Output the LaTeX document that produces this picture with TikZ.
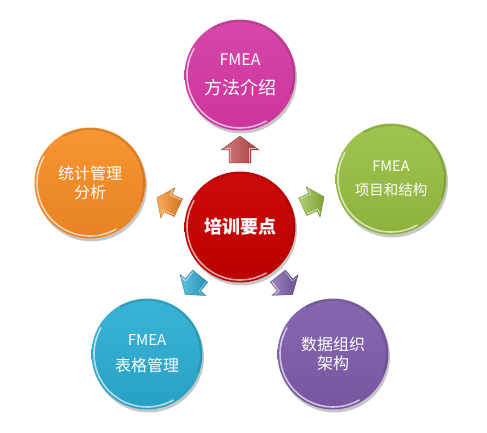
\documentclass[tikz,border=0pt]{standalone}
\usepackage{fontspec}
\setmainfont{Noto Sans CJK SC}
\usetikzlibrary{shadows}
\definecolor{magC}{RGB}{204,52,155}
\definecolor{magL}{RGB}{214,72,170}
\definecolor{grnC}{RGB}{140,178,60}
\definecolor{grnL}{RGB}{160,196,80}
\definecolor{orgC}{RGB}{232,130,35}
\definecolor{orgL}{RGB}{246,150,50}
\definecolor{redC}{RGB}{185,0,0}
\definecolor{redL}{RGB}{206,10,10}
\definecolor{cyaC}{RGB}{40,160,196}
\definecolor{cyaL}{RGB}{58,180,214}
\definecolor{purC}{RGB}{118,86,160}
\definecolor{purL}{RGB}{134,104,176}
\definecolor{arrR}{RGB}{192,72,72}
\tikzset{
  ball/.style n args={2}{circle, minimum size=111pt, inner sep=0pt, text=white, align=center,
    top color=#2, bottom color=#1,
    drop shadow={shadow xshift=1.5pt, shadow yshift=-3pt, opacity=0.22, fill=black},
    path picture={
      \draw[white, opacity=0.65, line width=1.6pt]
        ([shift={(150:53pt)}]path picture bounding box.center) arc[start angle=150, end angle=300, radius=53pt];
      \draw[black, opacity=0.12, line width=2pt]
        ([shift={(-20:54pt)}]path picture bounding box.center) arc[start angle=-20, end angle=120, radius=54pt];
    }},
}
\newcommand\blockarrow[5]{%
  \begin{scope}[shift={#1}, rotate=#2, scale=#5]
    \shade[left color=#3, right color=#4, draw=#4!80!black, line width=0.3pt]
      (-13,-11) -- (0,-11) -- (0,-19) -- (14,0) -- (0,19) -- (0,11) -- (-13,11) -- cycle;
    \draw[white, opacity=0.6, line width=0.9pt, line join=round]
      (-12,-9.5) -- (1.5,-9.5) -- (1.5,-15.5);
    \draw[white, opacity=0.45, line width=0.8pt, line join=round]
      (-12,9.5) -- (1.5,9.5) -- (1.5,15.5);
  \end{scope}}
\begin{document}
\begin{tikzpicture}[x=1pt,y=1pt]
\useasboundingbox (0,0) rectangle (487,433);
% connectors (block arrows)
\blockarrow{(240,283)}{90}{arrR!70!white}{arrR!85!black}{1}
\blockarrow{(168,230)}{155}{orgL!80!white}{orgC!90!black}{0.88}
\blockarrow{(313,231)}{25}{grnL!80!white}{grnC!90!black}{0.88}
\blockarrow{(193,148)}{231}{cyaL!80!white}{cyaC!90!black}{0.88}
\blockarrow{(285,148)}{308}{purL!80!white}{purC!90!black}{0.88}
% balls
\node[ball={magC}{magL}, font=\fontsize{18}{29}\selectfont] (top) at (240,358)
  {{\fontsize{16}{29}\selectfont FMEA}\\方法介绍};
\node[ball={grnC}{grnL}, font=\fontsize{14.5}{24}\selectfont] (right) at (391,254)
  {FMEA\\项目和结构};
\node[ball={orgC}{orgL}, font=\fontsize{16}{19}\selectfont] (left) at (90,250)
  {统计管理\\分析};
\node[ball={redC}{redL}, font=\fontsize{18}{22}\selectfont\bfseries] (center) at (240,206)
  {培训要点};
\node[ball={cyaC}{cyaL}, font=\fontsize{16}{26}\selectfont] (bl) at (147,79)
  {{\fontsize{15}{26}\selectfont FMEA}\\表格管理};
\node[ball={purC}{purL}, font=\fontsize{16}{19}\selectfont] (br) at (333,79)
  {数据组织\\架构};
\end{tikzpicture}
\end{document}
